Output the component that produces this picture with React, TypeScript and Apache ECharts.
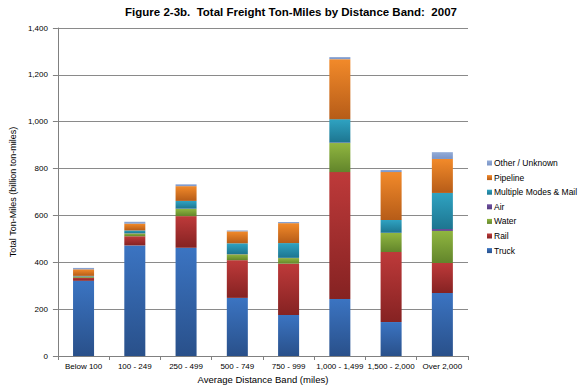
import React, { useEffect, useRef } from "react";
import * as echarts from "echarts";

const categories = ["Below 100", "100 - 249", "250 - 499", "500 - 749", "750 - 999", "1,000 - 1,499", "1,500 - 2,000", "Over 2,000"];
const truck = [321, 472, 462, 248, 175, 243, 145, 269];
const rail = [13, 39, 135, 161, 219, 542, 299, 128];
const water = [5, 12, 31, 25, 24, 124, 81, 137];
const air = [1, 1, 1, 1, 1, 2, 1, 8];
const multi = [2, 12, 33, 46, 63, 100, 55, 154];
const pipeline = [28, 29, 63, 51, 85, 256, 204, 145];
const other = [6, 8, 8, 4, 5, 9, 9, 29];

const seriesDefs = [
  { name: "Truck", data: truck, top: "#3b74c2", bottom: "#29508a" },
  { name: "Rail", data: rail, top: "#be3a3a", bottom: "#852222" },
  { name: "Water", data: water, top: "#90b640", bottom: "#62852b" },
  { name: "Air", data: air, top: "#6e50a0", bottom: "#553c80" },
  { name: "Multiple Modes & Mail", data: multi, top: "#2fa3c2", bottom: "#1d7590" },
  { name: "Pipeline", data: pipeline, top: "#f28a2a", bottom: "#b65c18" },
  { name: "Other / Unknown", data: other, top: "#93acd8", bottom: "#7a94c6" },
];

export default function App() {
  const ref = useRef<HTMLDivElement>(null);
  useEffect(() => {
    document.body.style.margin = "0";
    const chart = echarts.init(ref.current!, undefined, { renderer: "svg" });
    const font = "Liberation Sans, Arial, sans-serif";
    chart.setOption({
      animation: false,
      backgroundColor: "#ffffff",
      title: {
        text: "Figure 2-3b.  Total Freight Ton-Miles by Distance Band:  2007",
        left: "center",
        top: 1,
        textStyle: { fontFamily: font, fontSize: 11.5, fontWeight: "bold", color: "#000" },
      },
      legend: {
        orient: "vertical",
        left: 482,
        top: 153,
        itemWidth: 5,
        itemHeight: 5,
        itemGap: 4.6,
        icon: "rect",
        data: seriesDefs.map((s) => s.name).reverse(),
        textStyle: { fontFamily: font, fontSize: 8.5, color: "#000", lineHeight: 10, padding: [0, 0, 0, -3] },
      },
      grid: { left: 47, right: 114, top: 28, bottom: 36 },
      xAxis: {
        type: "category",
        data: categories,
        name: "Average Distance Band (miles)",
        nameLocation: "middle",
        nameGap: 17,
        nameTextStyle: { fontFamily: font, fontSize: 9.5, color: "#000" },
        axisLine: { lineStyle: { color: "#808080" } },
        axisTick: { show: true, length: 4, lineStyle: { color: "#808080" } },
        axisLabel: { fontFamily: font, fontSize: 8, color: "#000", margin: 6, interval: 0 },
      },
      yAxis: {
        type: "value",
        min: 0,
        max: 1400,
        interval: 200,
        name: "Total Ton-Miles (billion ton-miles)",
        nameLocation: "middle",
        nameGap: 37,
        nameTextStyle: { fontFamily: font, fontSize: 9, color: "#000" },
        axisLine: { show: true, lineStyle: { color: "#808080" } },
        axisTick: { show: true, length: 5, lineStyle: { color: "#808080" } },
        axisLabel: {
          fontFamily: font,
          fontSize: 8,
          color: "#000",
          margin: 10,
          formatter: (v: number) => v.toLocaleString("en-US"),
        },
        splitLine: { lineStyle: { color: "#8a8a8a" } },
      },
      series: seriesDefs.map((s) => ({
        name: s.name,
        type: "bar",
        stack: "total",
        barWidth: "41%",
        data: s.data,
        itemStyle: {
          color: new echarts.graphic.LinearGradient(0, 0, 0, 1, [
            { offset: 0, color: s.top },
            { offset: 1, color: s.bottom },
          ]),
        },
        emphasis: { disabled: true },
      })),
    });
    return () => chart.dispose();
  }, []);
  return <div ref={ref} style={{ width: 582, height: 392 }} />;
}
